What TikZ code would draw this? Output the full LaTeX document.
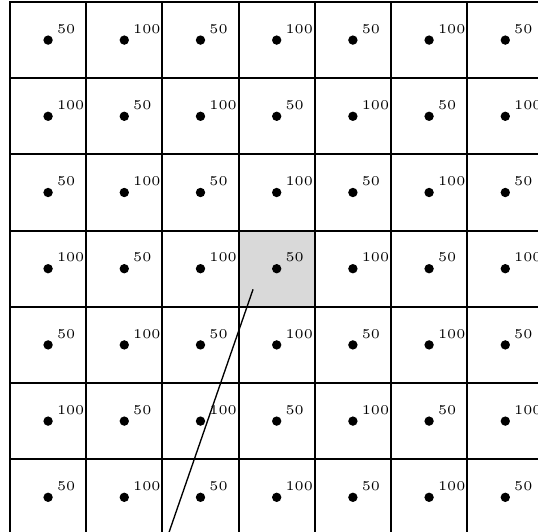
\documentclass[tikz,border=0pt]{standalone}
\usetikzlibrary{calc}
\tikzset{
  cell/.style={draw,line width=.75pt,minimum size=1cm,inner sep=0pt,outer sep=0pt},
  hit/.style={minimum size=1cm,inner sep=0pt,fill=black!15},
  pt/.style={circle,fill=black,inner sep=0pt,minimum size=3.5pt},
  val/.style={font=\tiny,anchor=base west,inner sep=0pt},
  ray/.style={line width=.5pt}
}
\begin{document}
\begin{tikzpicture}
  \useasboundingbox (-0.131,0.026) rectangle (6.929,-6.943);
  \clip (-0.131,0.026) rectangle (6.929,-6.943);
  % highlighted cell
  \node[hit] (hl) at (3.5,-3.5) {};
  \foreach \r in {0,...,6}{
    \foreach \c in {0,...,6}{
      \pgfmathtruncatemacro{\v}{mod(\r+\c,2)==0 ? 50 : 100}
      \node[cell] (c\r\c) at (\c+.5,-\r-.5) {};
      \node[pt] (p\r\c) at (c\r\c.center) {};
      \node[val] (v\r\c) at ($(p\r\c)+(.11,.09)$) {\v};
    }
  }
  \coordinate (a) at ($(c33.center)+(-.31,-.27)$);
  \coordinate (b) at (1.9,-7.5);
  \draw[ray] (a) -- (b);
\end{tikzpicture}
\end{document}
